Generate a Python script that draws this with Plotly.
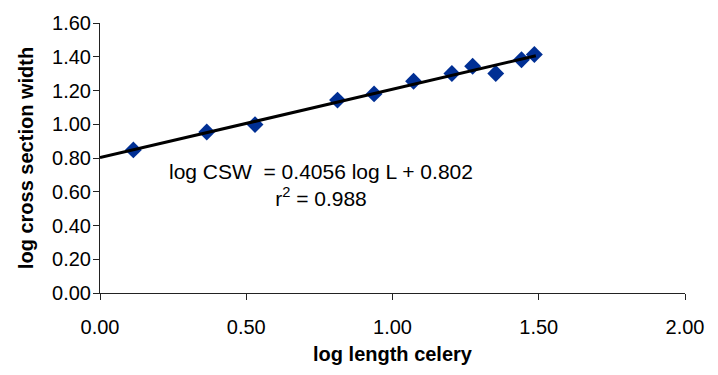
import plotly.graph_objects as go

log_length = [0.114, 0.365, 0.53, 0.812, 0.937, 1.072, 1.203, 1.274, 1.353, 1.441, 1.485]
log_csw = [0.848, 0.954, 0.998, 1.143, 1.180, 1.255, 1.301, 1.344, 1.301, 1.382, 1.413]

slope = 0.4056
intercept = 0.802
trend_x = [0.0, 1.49]
trend_y = [slope * x + intercept for x in trend_x]

x_ticks = [0.0, 0.5, 1.0, 1.5, 2.0]
y_ticks = [0.0, 0.2, 0.4, 0.6, 0.8, 1.0, 1.2, 1.4, 1.6]

FONT = "Liberation Sans, Arial, sans-serif"

fig = go.Figure()
fig.add_trace(go.Scatter(
    x=log_length, y=log_csw, mode="markers",
    marker=dict(symbol="diamond", size=13, color="#002F94", line=dict(width=0)),
    showlegend=False, hoverinfo="skip"))
fig.add_trace(go.Scatter(
    x=trend_x, y=trend_y, mode="lines",
    line=dict(color="black", width=3),
    showlegend=False, hoverinfo="skip"))

fig.add_annotation(x=0.755, y=0.64, xref="x", yref="y",
                   text="log CSW\u00a0 = 0.4056 log L + 0.802<br>r<sup>2</sup> = 0.988",
                   showarrow=False, align="center",
                   font=dict(family=FONT, size=21, color="black"))

fig.update_layout(
    width=718, height=375,
    margin=dict(l=100, r=33, t=17, b=82),
    paper_bgcolor="white", plot_bgcolor="white",
    font=dict(family=FONT, size=20, color="black"),
)
fig.update_xaxes(
    range=[0, 2], tickvals=x_ticks, ticktext=[f"{v:.2f}" for v in x_ticks],
    showline=True, linecolor="#222", linewidth=1, showgrid=False, zeroline=False,
    ticks="outside", ticklen=6, tickcolor="#222", ticklabelstandoff=10,
    title=dict(text="<b>log length celery</b>", font=dict(size=20), standoff=9),
)
fig.update_yaxes(
    range=[0, 1.6], tickvals=y_ticks, ticktext=[f"{v:.2f}" for v in y_ticks],
    showline=True, linecolor="#222", linewidth=1, showgrid=False, zeroline=False,
    ticks="outside", ticklen=6, tickcolor="#222", ticklabelstandoff=-2,
    title=dict(text="<b>log cross section width</b>", font=dict(size=20), standoff=13),
)

fig.write_html("out.html")
